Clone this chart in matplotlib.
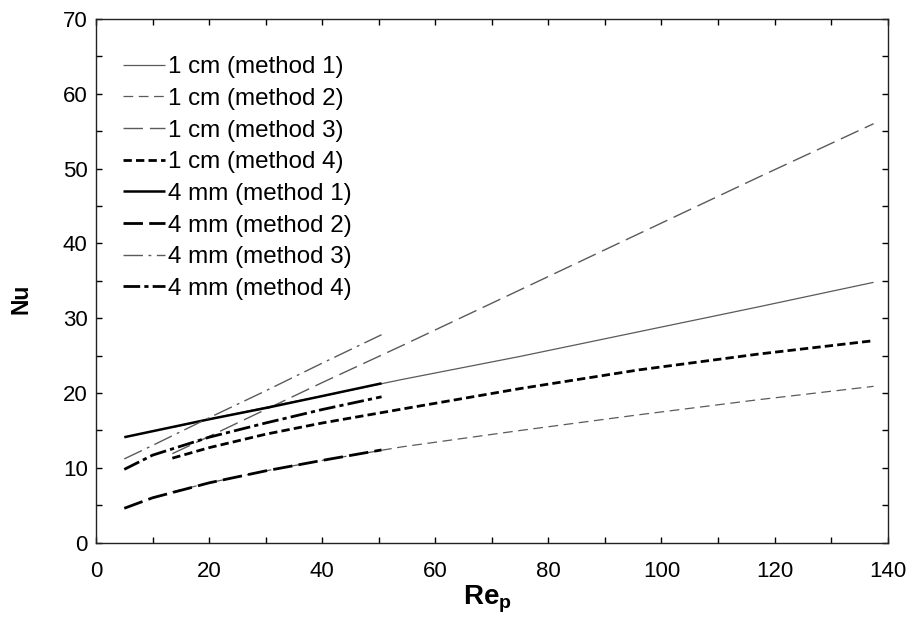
import matplotlib
matplotlib.use("Agg")
import matplotlib.pyplot as plt

plt.rcParams['font.family'] = ['Liberation Sans', 'DejaVu Sans']
plt.rcParams['mathtext.fontset'] = 'custom'
plt.rcParams['mathtext.rm'] = 'Liberation Sans'
plt.rcParams['mathtext.bf'] = 'Liberation Sans:bold'
plt.rcParams['lines.scale_dashes'] = False

# Data
re_4mm = [5, 10, 20, 30, 40, 50.5]
nu_4mm_m1 = [14.1, 14.9, 16.5, 18.0, 19.6, 21.3]
nu_4mm_m2 = [4.6, 6.0, 8.0, 9.6, 11.0, 12.4]
nu_4mm_m3 = [11.2, 13.0, 16.7, 20.3, 24.0, 27.8]
nu_4mm_m4 = [9.8, 11.7, 14.1, 16.0, 17.8, 19.5]

re_1cm = [13.5, 20, 30, 40, 54, 75, 96, 117, 137.5]
nu_1cm_m1 = [15.4, 16.5, 18.1, 19.6, 21.8, 24.9, 28.2, 31.5, 34.8]
nu_1cm_m2 = [6.8, 8.0, 9.6, 11.0, 12.8, 15.0, 17.1, 19.1, 20.9]
nu_1cm_m3 = [11.9, 14.2, 17.8, 21.4, 26.3, 33.8, 41.3, 48.8, 56.0]
nu_1cm_m4 = [11.3, 12.7, 14.5, 16.0, 17.85, 20.6, 23.1, 25.2, 27.0]

labels = ["1 cm (method 1)", "1 cm (method 2)", "1 cm (method 3)", "1 cm (method 4)",
          "4 mm (method 1)", "4 mm (method 2)", "4 mm (method 3)", "4 mm (method 4)"]

fig = plt.figure(figsize=(9.1, 6.19), dpi=100)
ax = fig.add_axes([96/910, (619-542.7)/619, (887.7-96)/910, (542.7-19)/619])

gray = '#5a5a5a'
h = []
h += ax.plot(re_1cm, nu_1cm_m1, color=gray, lw=0.9, solid_capstyle='butt')
l, = ax.plot(re_1cm, nu_1cm_m2, color=gray, lw=0.9); l.set_dashes((7, 4)); h.append(l)
l, = ax.plot(re_1cm, nu_1cm_m3, color=gray, lw=1.0); l.set_dashes((14, 5)); h.append(l)
l, = ax.plot(re_1cm, nu_1cm_m4, color='black', lw=2.0); l.set_dashes((6, 3)); h.append(l)
h += ax.plot(re_4mm, nu_4mm_m1, color='black', lw=1.8, solid_capstyle='butt')
l, = ax.plot(re_4mm, nu_4mm_m2, color='black', lw=2.0); l.set_dashes((14, 4.5)); h.append(l)
l, = ax.plot(re_4mm, nu_4mm_m3, color=gray, lw=1.0); l.set_dashes((14, 4, 2, 4)); h.append(l)
l, = ax.plot(re_4mm, nu_4mm_m4, color='black', lw=2.0); l.set_dashes((12, 3, 3, 3)); h.append(l)

ax.set_xlim(0, 140)
ax.set_ylim(0, 70)
ax.set_xticks(range(0, 141, 20))
ax.set_xticks(range(0, 141, 10), minor=True)
ax.set_yticks(range(0, 71, 10))
ax.set_yticks(range(0, 71, 5), minor=True)
ax.tick_params(which='both', direction='in', top=True, right=True, length=4, width=1,
               labelsize=16)
ax.tick_params(axis='x', which='both', pad=13)
ax.tick_params(axis='y', which='both', pad=6)
for s in ax.spines.values():
    s.set_linewidth(1.0)
    s.set_color('#222222')

ax.set_xlabel(r'$\mathbf{Re}_\mathbf{p}$', fontsize=20)
ax.set_ylabel('Nu', fontsize=16.5, fontweight='bold')
ax.xaxis.set_label_coords(0.494, -0.077)
ax.yaxis.set_label_coords(-0.08, 0.465)

leg = ax.legend(h, labels, loc='upper left', bbox_to_anchor=(0.034, 0.929),
                frameon=False, fontsize=17.4, handlelength=1.74, handletextpad=0.12,
                labelspacing=0.40, borderpad=0, borderaxespad=0)

fig.savefig('out.png', dpi=100)
